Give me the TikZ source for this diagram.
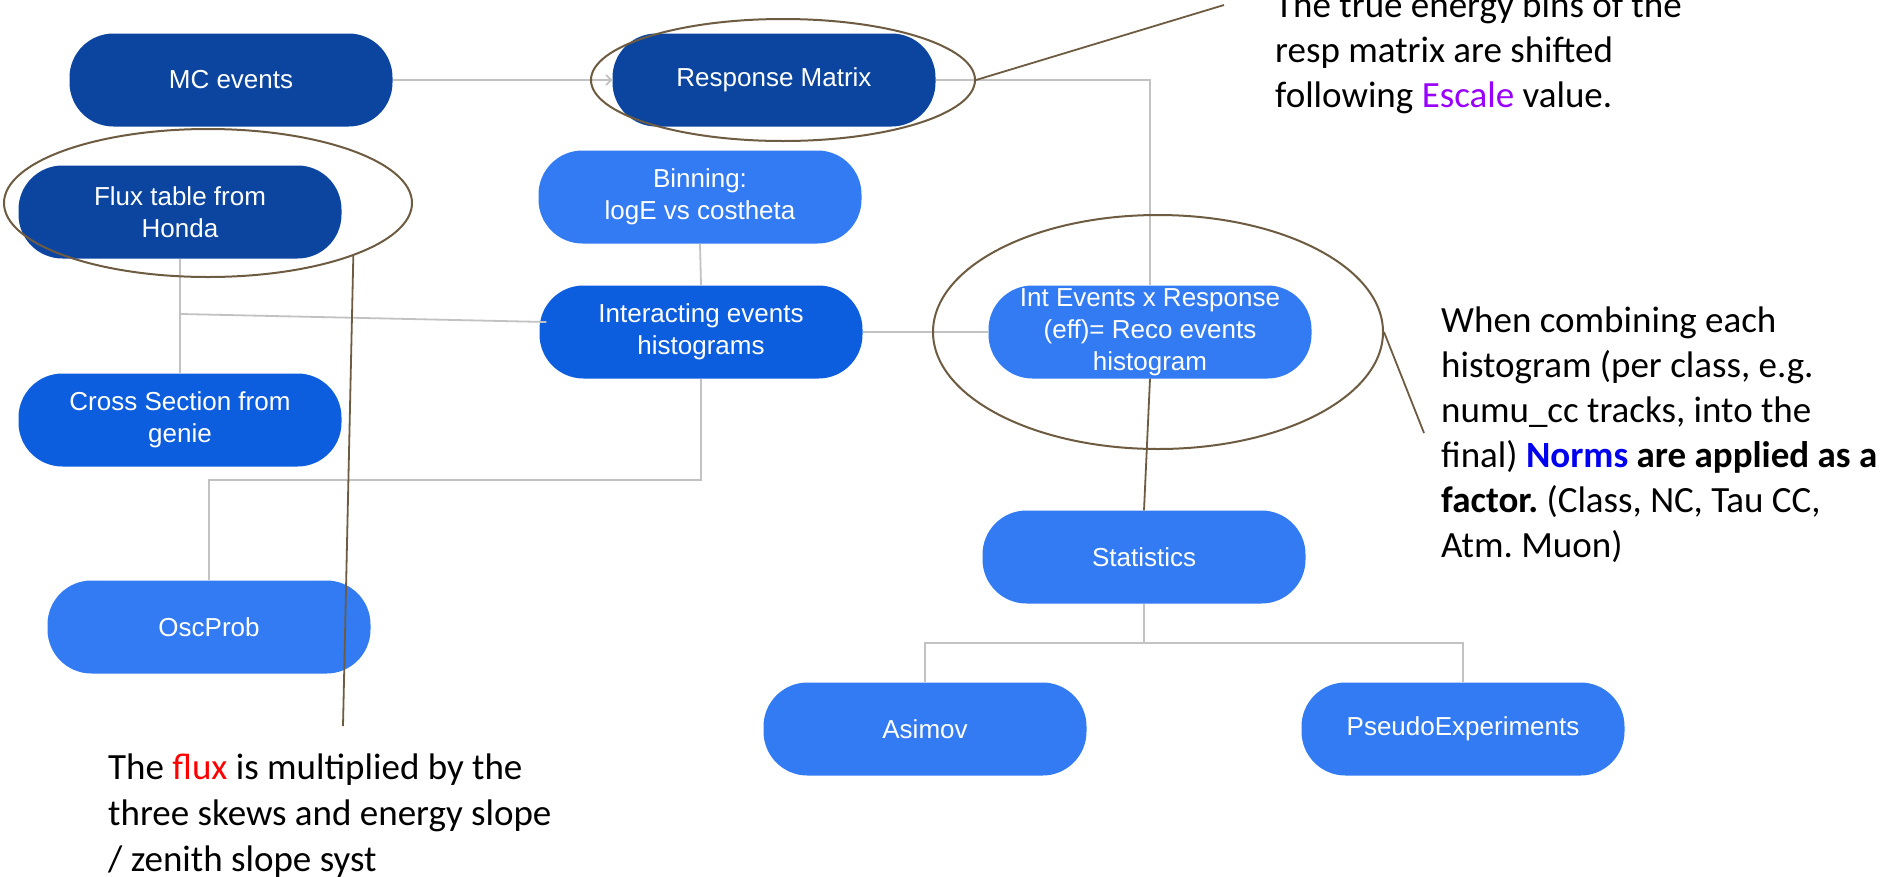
\documentclass[tikz,border=0pt]{standalone}
\usepackage{fontspec}
\setmainfont{Liberation Sans}
\newfontfamily\calib{Carlito}
\usetikzlibrary{arrows.meta,calc,shapes.geometric}
\definecolor{dkb}{HTML}{0B45A0}
\definecolor{mdb}{HTML}{0D5EDE}
\definecolor{ltb}{HTML}{327BF2}
\definecolor{conn}{HTML}{C2C2C2}
\definecolor{brn}{HTML}{6E5C42}
\definecolor{esc}{HTML}{9A00FF}
\definecolor{nrm}{HTML}{0000F0}
\frenchspacing
\begin{document}
\begin{tikzpicture}[x=1pt,y=-1pt,
  box/.style={rounded corners=44pt, minimum width=323pt, minimum height=93pt,
    inner sep=0pt, align=center, text=white, font=\fontsize{26}{32}\selectfont},
  darkbox/.style={box, fill=dkb},
  medbox/.style={box, fill=mdb},
  lightbox/.style={box, fill=ltb},
  conline/.style={draw=conn, line width=1.8pt},
  ring/.style={ellipse, draw=brn, line width=2pt, inner sep=0pt, fill=none},
  callout/.style={draw=brn, line width=1.8pt},
  note/.style={align=left, inner sep=0pt, anchor=base west, text=black,
    font=\calib\fontsize{37}{45}\selectfont}
]
\useasboundingbox (0,0) rectangle (1889,876);
\fill[white] (0,0) rectangle (1889,876);

% boxes
\node[darkbox] (mc) at (231,80) {MC events};
\node[darkbox] (rm) at (774,80) {Response Matrix};
\node[darkbox] (flux) at (180,212) {Flux table from\\Honda};
\node[lightbox] (bin) at (700,197) {Binning:\\logE vs costheta};
\node[medbox] (inter) at (701,332) {Interacting events\\histograms};
\node[medbox] (xs) at (180,420) {Cross Section from\\genie};
\node[lightbox] (osc) at (209,627) {OscProb};
\node[lightbox] (reco) at (1150,332) {\raisebox{-4pt}{\parbox{323pt}{\centering Int Events x Response\\(eff)= Reco events\\histogram}}};
\node[lightbox] (stat) at (1144,557) {Statistics};
\node[lightbox] (asimov) at (925,729) {Asimov};
\node[lightbox] (pseudo) at (1463,729) {PseudoExperiments};

% connectors
\coordinate (j1) at (181,314);
\draw[conline, -{Straight Barb[length=5pt,width=10pt]}] (mc.east) -- (rm.west);
\draw[conline] (rm.east) -| (reco.north);
\draw[conline] (bin.south) -- (inter.north);
\draw[conline] (flux.south) -- (xs.north);
\draw[conline] (j1) -- ($(inter.west)+(7,-10)$);
\draw[conline] (inter.east) -- (reco.west);
\draw[conline] (inter.south) -- ++(0,101) -| (osc.north);
\draw[conline] (stat.south) -- ++(0,39) -| (asimov.north);
\draw[conline] (stat.south) -- ++(0,39) -| (pseudo.north);

% rings and callouts
\node[ring, minimum width=384pt, minimum height=122pt] (rmring) at (783,80) {};
\node[ring, minimum width=408pt, minimum height=148pt] (fluxring) at (208,203) {};
\node[ring, minimum width=450pt, minimum height=234pt] (recoring) at (1158,332) {};
\coordinate (c1) at (1224,5);
\coordinate (c2) at (343,726);
\coordinate (c3) at (1424,433);
\draw[callout] (rmring.east) -- (c1);
\draw[callout] (fluxring.-20) -- (c2);
\draw[callout] (recoring.east) -- (c3);
\draw[callout] (reco.south) -- (stat.north);

% notes
\node[note] (t1) at (1275,107) {The true energy bins of the\\resp matrix are shifted\\following \textcolor{esc}{Escale} value.};
\node[note] (t2) at (1441,557) {When combining each\\histogram (per class, e.g.\\numu\_cc tracks, into the\\final) \textcolor{nrm}{\textbf{Norms}} \textbf{are applied as a}\\\textbf{factor.} (Class, NC, Tau CC,\\Atm. Muon)};
\node[note, font=\calib\fontsize{37}{46}\selectfont] (t3) at (108,871) {The \textcolor{red}{flux} is multiplied by the\\three skews and energy slope\\/ zenith slope syst};
\end{tikzpicture}
\end{document}
